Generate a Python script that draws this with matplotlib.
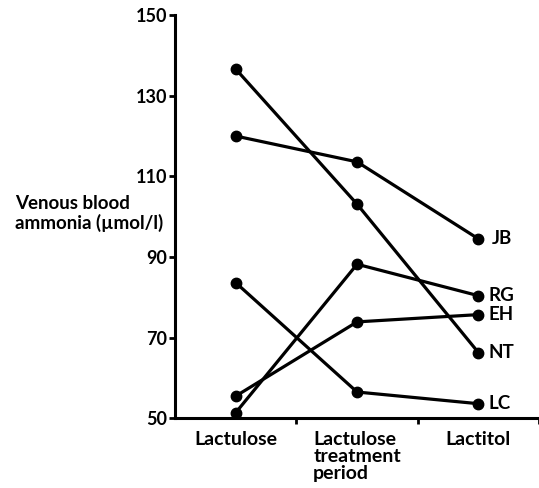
import matplotlib
matplotlib.use("Agg")
import matplotlib.pyplot as plt

# categories along the x axis
periods = ["Lactulose", "Lactulose\ntreatment\nperiod", "Lactitol"]

# venous blood ammonia per patient (umol/l)
jb = [120, 113.6, 94.5]
rg = [51.4, 88.2, 80.4]
eh = [55.5, 73.9, 75.7]
nt = [136.6, 103.1, 66.3]
lc = [83.6, 56.5, 53.6]
patients = ["JB", "RG", "EH", "NT", "LC"]
label_offsets = [10, 7, 7, 7, 7]

plt.rcParams['font.family'] = ['Lato', 'DejaVu Sans']
plt.rcParams['font.weight'] = 'bold'

fig = plt.figure(figsize=(5.39, 4.88), dpi=100)
ax = fig.add_axes([0.325, 0.143, 0.675, 0.826])

xs = [i + 0.5 for i in range(len(periods))]
for name, vals, off in zip(patients, [jb, rg, eh, nt, lc], label_offsets):
    ax.plot(xs, vals, color='black', lw=2.3, marker='o', ms=7.5, solid_capstyle='round')
    ax.annotate(name, (xs[-1], vals[-1]), xytext=(off, 0), textcoords='offset points',
                va='center', ha='left', fontsize=13.5)

ax.set_xlim(0, 3)
ax.set_ylim(50, 150)
ax.set_yticks(range(50, 151, 20))
ax.set_xticks(xs)
ax.set_xticklabels(periods)
for lab in ax.get_xticklabels():
    lab.set_multialignment('left')
    lab.set_verticalalignment('top')
    lab.set_linespacing(1.0)
ax.set_xticks([1, 2, 3], minor=True)

ax.tick_params(axis='x', which='major', length=0, pad=9, labelsize=14)
ax.tick_params(axis='x', which='minor', length=4, width=2, direction='out')
ax.tick_params(axis='y', length=4, width=2, pad=1.5, labelsize=13)

for side in ['top', 'right']:
    ax.spines[side].set_visible(False)
for side in ['left', 'bottom']:
    ax.spines[side].set_linewidth(2.2)

fig.text(15 / 539, 0.563, "Venous blood\nammonia (\u00b5mol/l)", ha='left', va='center',
         fontsize=13.5, linespacing=1.1)

fig.savefig("out.png", dpi=100)
